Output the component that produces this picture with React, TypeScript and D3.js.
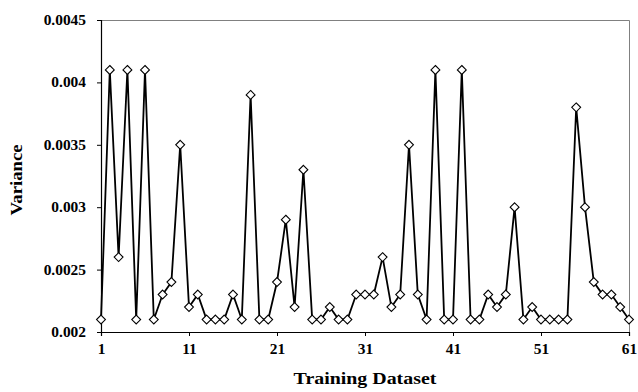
import { useEffect, useRef } from "react";
import * as d3 from "d3";

const variance = [
  0.0021, 0.0041, 0.0026, 0.0041, 0.0021, 0.0041, 0.0021, 0.0023, 0.0024, 0.0035,
  0.0022, 0.0023, 0.0021, 0.0021, 0.0021, 0.0023, 0.0021, 0.0039, 0.0021, 0.0021,
  0.0024, 0.0029, 0.0022, 0.0033, 0.0021, 0.0021, 0.0022, 0.0021, 0.0021, 0.0023,
  0.0023, 0.0023, 0.0026, 0.0022, 0.0023, 0.0035, 0.0023, 0.0021, 0.0041, 0.0021,
  0.0021, 0.0041, 0.0021, 0.0021, 0.0023, 0.0022, 0.0023, 0.003, 0.0021, 0.0022,
  0.0021, 0.0021, 0.0021, 0.0021, 0.0038, 0.003, 0.0024, 0.0023, 0.0023, 0.0022,
  0.0021,
];
const xTicks = [1, 11, 21, 31, 41, 51, 61];
const yTicks = [0.002, 0.0025, 0.003, 0.0035, 0.004, 0.0045];
const yTickLabels = ["0.002", "0.0025", "0.003", "0.0035", "0.004", "0.0045"];

export default function App() {
  const svgRef = useRef<SVGSVGElement>(null);

  useEffect(() => {
    const svg = d3.select(svgRef.current);
    svg.selectAll("*").remove();

    const width = 638;
    const height = 392;
    const margin = { top: 20, right: 9, bottom: 60, left: 101 };
    const W = width - margin.left - margin.right;
    const H = height - margin.top - margin.bottom;
    const font = "'Liberation Serif', 'Times New Roman', serif";

    // the original text is a bit wider than Liberation Serif, so stretch it
    const widen = (sel: any, k: number) =>
      sel.each(function (this: SVGTextElement) {
        const len = this.getComputedTextLength();
        d3.select(this).attr("textLength", len * k).attr("lengthAdjust", "spacingAndGlyphs");
      });

    const g = svg.append("g").attr("transform", `translate(${margin.left},${margin.top})`);

    const x = d3.scaleLinear().domain([1, 61]).range([0, W]);
    const y = d3.scaleLinear().domain([0.002, 0.0045]).range([H, 0]);

    // plot frame (top & right gray)
    g.append("path")
      .attr("d", `M0,0.5H${W + 0.5}V${H}`)
      .attr("fill", "none")
      .attr("stroke", "#808080")
      .attr("stroke-width", 1);

    g.append("g")
      .attr("transform", `translate(0,${H})`)
      .call(d3.axisBottom(x).tickValues(xTicks).tickSize(4).tickFormat(d3.format("d")))
      .call((ax) => ax.select(".domain").attr("stroke", "#000").attr("stroke-width", 1.2))
      .call((ax) => ax.selectAll(".tick line").attr("stroke", "#000"))
      .call((ax) =>
        ax.selectAll(".tick text")
          .attr("fill", "#000")
          .style("font-family", font)
          .style("font-weight", "bold")
          .style("font-size", "14px")
          .attr("dy", "1.1em")
          .call(widen, 1.1)
      );

    g.append("g")
      .call(
        d3.axisLeft(y).tickValues(yTicks).tickSize(4)
          .tickFormat((d, i) => yTickLabels[i])
      )
      .call((ax) => ax.select(".domain").attr("stroke", "#000").attr("stroke-width", 1.2))
      .call((ax) => ax.selectAll(".tick line").attr("stroke", "#000"))
      .call((ax) =>
        ax.selectAll(".tick text")
          .attr("fill", "#000")
          .style("font-family", font)
          .style("font-weight", "bold")
          .style("font-size", "14px")
          .attr("x", -15)
          .call(widen, 1.1)
      );

    const line = d3.line<number>()
      .x((d, i) => x(i + 1))
      .y((d) => y(d));

    g.append("path")
      .datum(variance)
      .attr("d", line)
      .attr("fill", "none")
      .attr("stroke", "#000")
      .attr("stroke-width", 1.8);

    g.selectAll("path.pt")
      .data(variance)
      .join("path")
      .attr("class", "pt")
      .attr("d", d3.symbol(d3.symbolDiamond2, 50))
      .attr("transform", (d, i) => `translate(${x(i + 1)},${y(d)})`)
      .attr("fill", "#fff")
      .attr("stroke", "#000")
      .attr("stroke-width", 1.1);

    svg.append("text")
      .attr("x", margin.left + W / 2)
      .attr("y", 384)
      .attr("text-anchor", "middle")
      .style("font-family", font)
      .style("font-weight", "bold")
      .style("font-size", "17px")
      .text("Training Dataset")
      .call(widen, 1.17);

    svg.append("text")
      .attr("transform", `translate(22,${margin.top + H / 2 + 4}) rotate(-90)`)
      .attr("text-anchor", "middle")
      .style("font-family", font)
      .style("font-weight", "bold")
      .style("font-size", "17px")
      .text("Variance")
      .call(widen, 1.1);
  }, []);

  return (
    <svg
      ref={svgRef}
      width={638}
      height={392}
      style={{ position: "absolute", left: 0, top: 0, background: "#fff" }}
    />
  );
}
